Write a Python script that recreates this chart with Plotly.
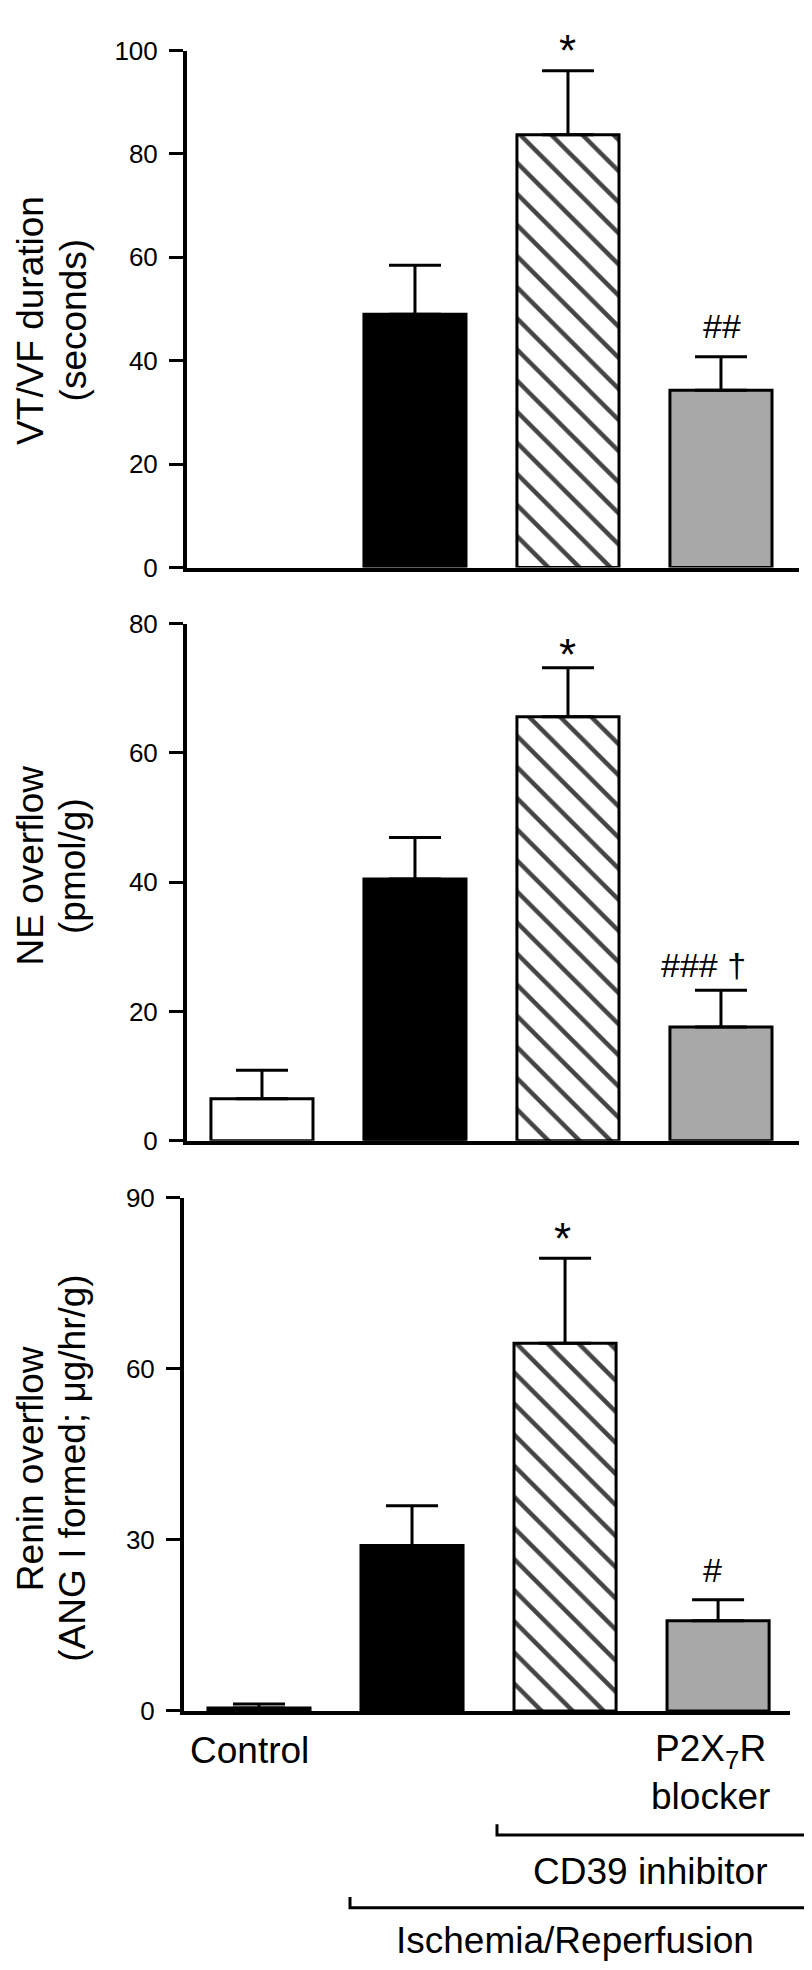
import plotly.graph_objects as go

W, H = 812, 1970

# ---------------- data ----------------
categories = ["Control", "I/R", "I/R + CD39 inhibitor", "I/R + CD39 inhibitor + P2X7R blocker"]

vtvf_mean = [None, 49.0, 83.7, 34.3]
vtvf_sem = [None, 9.5, 12.4, 6.5]

ne_mean = [6.5, 40.5, 65.6, 17.6]
ne_sem = [4.4, 6.4, 7.6, 5.7]

renin_mean = [0.5, 29.0, 64.5, 15.8]
renin_sem = [0.7, 7.0, 14.9, 3.7]

vtvf_ticks = [0, 20, 40, 60, 80, 100]
ne_ticks = [0, 20, 40, 60, 80]
renin_ticks = [0, 30, 60, 90]

vtvf_marks = ["", "", "*", "##"]
ne_marks = ["", "", "*", "### †"]
renin_marks = ["", "", "*", "#"]

bar_fill = ["white", "black", "white", "#a8a8a8"]
bar_pattern = ["", "", "\\", ""]

FONT = "Liberation Sans, Arial, sans-serif"


def px(p):
    return p / W


def py(p):
    return 1 - p / H


fig = go.Figure()

panels = [
    # mean, sem, ticks, yrange, ytop_px, ybot_px, xleft_px, xright_px, xrange, marks, title1, title2, title_y
    (vtvf_mean, vtvf_sem, vtvf_ticks, [0, 100], 28, 553, 179, 791, [-0.49, 3.51],
     vtvf_marks, "VT/VF duration", "(seconds)", 302),
    (ne_mean, ne_sem, ne_ticks, [0, 80], 610, 1135, 179, 791, [-0.49, 3.51],
     ne_marks, "NE overflow", "(pmol/g)", 856),
    (renin_mean, renin_sem, renin_ticks, [0, 90], 1193, 1714, 176, 782, [-0.49, 3.47],
     renin_marks, "Renin overflow", "(ANG I formed; μg/hr/g)", 1468),
]

annotations = []
for i, (mean, sem, ticks, yr, ytop, ybot, xl, xr, xrng, marks, t1, t2, ty) in enumerate(panels):
    n = "" if i == 0 else str(i + 1)
    fig.add_trace(go.Bar(
        x=categories, y=mean,
        xaxis="x" + n, yaxis="y" + n,
        width=0.667,
        marker=dict(
            color=bar_fill,
            line=dict(color="black", width=3),
            pattern=dict(shape=bar_pattern, fgcolor="black",
                         fgopacity=1, size=22, solidity=0.2, fillmode="overlay"),
        ),
        error_y=dict(type="data", symmetric=False, array=sem,
                     arrayminus=[0] * len(sem), color="black", thickness=3, width=26),
        showlegend=False,
        hoverinfo="skip",
    ))
    fig.update_layout(**{
        "xaxis" + n: dict(
            domain=[px(xl), px(xr)], range=xrng, anchor="y" + n,
            showline=True, linecolor="black", linewidth=4,
            showticklabels=False, ticks="", showgrid=False, zeroline=False,
            fixedrange=True,
        ),
        "yaxis" + n: dict(
            domain=[py(ybot), py(ytop)], range=yr, anchor="x" + n,
            showline=True, linecolor="black", linewidth=4,
            tickvals=ticks, ticktext=[str(t) for t in ticks],
            ticks="outside", ticklen=14, tickwidth=3, tickcolor="black",
            tickfont=dict(family=FONT, size=26, color="black"),
            ticklabelstandoff=6,
            showgrid=False, zeroline=False, fixedrange=True,
        ),
    })
    # y-axis titles (two lines)
    annotations.append(dict(text=t1, x=px(22.5), y=py(ty), xref="paper", yref="paper",
                            textangle=-90, showarrow=False, xanchor="center", yanchor="middle",
                            font=dict(family=FONT, size=37, color="black")))
    annotations.append(dict(text=t2, x=px(65), y=py(ty), xref="paper", yref="paper",
                            textangle=-90, showarrow=False, xanchor="center", yanchor="middle",
                            font=dict(family=FONT, size=37, color="black")))

# significance marks (pixel positions of their centres)
mark_pos = [
    [(559, 28), (714, 308)],
    [(559, 641), (695, 957)],
    [(554, 1234), (704, 1571)],
]
for (mean, sem, ticks, yr, ytop, ybot, xl, xr, xrng, marks, t1, t2, ty), pos in zip(panels, mark_pos):
    txts = [m for m in marks if m]
    for t, (mx, my) in zip(txts, pos):
        size = 44 if t == "*" else 34
        annotations.append(dict(text=t, x=px(mx), y=py(my), xref="paper", yref="paper",
                                showarrow=False, xanchor="center", yanchor="middle",
                                font=dict(family=FONT, size=size, color="black")))

# group labels under the bottom panel
labels = [
    ("Control", 241, 1754),
    ("P2X<sub>7</sub>R<br>blocker", 702, 1777),
    ("CD39 inhibitor", 642, 1877),
    ("Ischemia/Reperfusion", 567, 1947),
]
for t, lx, ly in labels:
    annotations.append(dict(text=t, x=px(lx), y=py(ly), xref="paper", yref="paper",
                            showarrow=False, xanchor="center", yanchor="middle",
                            font=dict(family=FONT, size=37, color="black")))

# brackets
shapes = []
for x0, x1, yb in [(489, 804, 1840), (342, 808, 1914)]:
    path = (f"M {px(x0)} {py(yb - 11)} L {px(x0)} {py(yb)} "
            f"L {px(x1)} {py(yb)} L {px(x1)} {py(yb - 11)}")
    shapes.append(dict(type="path", path=path, xref="paper", yref="paper",
                       line=dict(color="black", width=3)))

fig.update_layout(
    width=W, height=H,
    margin=dict(l=0, r=0, t=0, b=0),
    paper_bgcolor="white", plot_bgcolor="white",
    annotations=annotations, shapes=shapes,
    bargap=0.3,
    font=dict(family=FONT, color="black"),
)

fig.write_html("out.html")
